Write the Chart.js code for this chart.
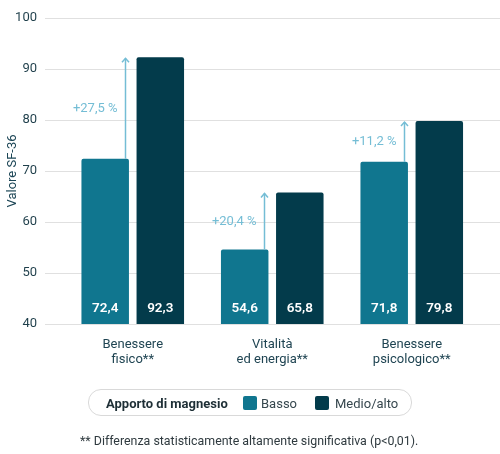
<!DOCTYPE html>
<html><head><meta charset="utf-8">
<script src="https://cdn.jsdelivr.net/npm/chart.js@4"></script>
<style>
html,body{margin:0;padding:0;background:#fff;}
#wrap{position:relative;width:500px;height:454px;font-family:Roboto,"Noto Sans",sans-serif;overflow:hidden;}
#c{position:absolute;left:0;top:0;}
#legend{position:absolute;left:88px;top:389px;width:322px;height:25px;border:1px solid #d9d9d9;border-radius:13px;font-size:13px;}
#legend span{position:absolute;top:50%;transform:translateY(-50%);white-space:nowrap;}
#legend .t{left:17px;font-weight:700;color:#1d2e35;}
#legend .box{width:14px;height:14px;border-radius:2px;}
#legend .lab{color:#36474e;}
#foot{position:absolute;left:80px;top:433px;font-size:12.4px;color:#2f3a3f;white-space:nowrap;}
</style></head>
<body>
<div id="wrap">
<canvas id="c" width="500" height="454"></canvas>
<div id="legend">
  <span class="t">Apporto di magnesio</span>
  <span class="box" style="left:154px;background:#10768f"></span>
  <span class="lab" style="left:172px">Basso</span>
  <span class="box" style="left:226px;background:#033b4b"></span>
  <span class="lab" style="left:246px">Medio/alto</span>
</div>
<div id="foot">** Differenza statisticamente altamente significativa (p&lt;0,01).</div>
</div>
<script>
const categories = [['Benessere','fisico**'],['Vitalità','ed energia**'],['Benessere','psicologico**']];
const basso = [72.4, 54.6, 71.8];
const medio = [92.3, 65.8, 79.8];
const increases = ['+27,5 %', '+20,4 %', '+11,2 %'];
const yTicks = [40, 50, 60, 70, 80, 90, 100];

const fmt = v => v.toFixed(1).replace('.', ',');

const gridPlugin = {
  id: 'gridExt',
  beforeDatasetsDraw(chart) {
    const ys = chart.scales.y, ctx = chart.ctx;
    ctx.save();
    ctx.strokeStyle = '#e0e0e0';
    ctx.lineWidth = 1;
    yTicks.forEach(t => {
      const y = Math.round(ys.getPixelForValue(t)) + 0.5;
      ctx.beginPath(); ctx.moveTo(45, y); ctx.lineTo(500, y); ctx.stroke();
    });
    ctx.restore();
  }
};

const annotPlugin = {
  id: 'annot',
  afterDatasetsDraw(chart) {
    const ctx = chart.ctx, ys = chart.scales.y;
    const m0 = chart.getDatasetMeta(0), m1 = chart.getDatasetMeta(1);
    ctx.save();
    categories.forEach((c, i) => {
      const b0 = m0.data[i], b1 = m1.data[i];
      ctx.fillStyle = '#ffffff';
      ctx.font = '600 13.5px Roboto';
      ctx.textAlign = 'center'; ctx.textBaseline = 'middle';
      ctx.fillText(fmt(basso[i]), b0.x, ys.bottom - 15);
      ctx.fillText(fmt(medio[i]), b1.x, ys.bottom - 15);
      const ax = Math.round(b0.x + b0.width / 2 - 4) + 0.5;
      const y0 = ys.getPixelForValue(basso[i]);
      const y1 = ys.getPixelForValue(medio[i]) + 1;
      ctx.strokeStyle = '#74bdd5'; ctx.lineWidth = 1.5;
      ctx.beginPath(); ctx.moveTo(ax, y0); ctx.lineTo(ax, y1); ctx.stroke();
      ctx.beginPath(); ctx.moveTo(ax - 3.5, y1 + 4); ctx.lineTo(ax, y1); ctx.lineTo(ax + 3.5, y1 + 4); ctx.stroke();
      ctx.fillStyle = '#74bdd5';
      ctx.font = '13px Roboto';
      ctx.textAlign = 'right';
      ctx.fillText(increases[i], ax - 8, (y0 + y1) / 2);
    });
    ctx.restore();
  }
};

new Chart(document.getElementById('c'), {
  type: 'bar',
  data: {
    labels: categories,
    datasets: [
      { label: 'Basso', data: basso, backgroundColor: '#10768f', borderRadius: 2, categoryPercentage: 0.79, barPercentage: 0.862 },
      { label: 'Medio/alto', data: medio, backgroundColor: '#033b4b', borderRadius: 2, categoryPercentage: 0.79, barPercentage: 0.862 }
    ]
  },
  options: {
    responsive: false,
    animation: false,
    layout: { padding: { left: 0, right: 18.5, top: 18, bottom: 80 } },
    plugins: { legend: { display: false }, tooltip: { enabled: false } },
    scales: {
      x: {
        grid: { display: false, drawTicks: false },
        border: { display: false },
        ticks: { color: '#1f4452', font: { family: 'Roboto', size: 13, lineHeight: 1.1 }, padding: 14 },
        afterFit(s) { s.height = 50; }
      },
      y: {
        min: 40, max: 100,
        afterBuildTicks(s) { s.ticks = yTicks.map(v => ({ value: v })); },
        grid: { display: false, drawTicks: false },
        border: { display: false },
        ticks: { color: '#1f3f4b', font: { family: 'Roboto', size: 13 }, padding: 26 },
        title: { display: true, text: 'Valore SF-36', color: '#1c4656', font: { family: 'Roboto', size: 13 }, padding: { top: 5, bottom: 0 } },
        afterFit(s) { s.width = 63; s.paddingTop = 8; s.paddingBottom = 8; }
      }
    }
  },
  plugins: [gridPlugin, annotPlugin]
});
</script>
</body></html>
